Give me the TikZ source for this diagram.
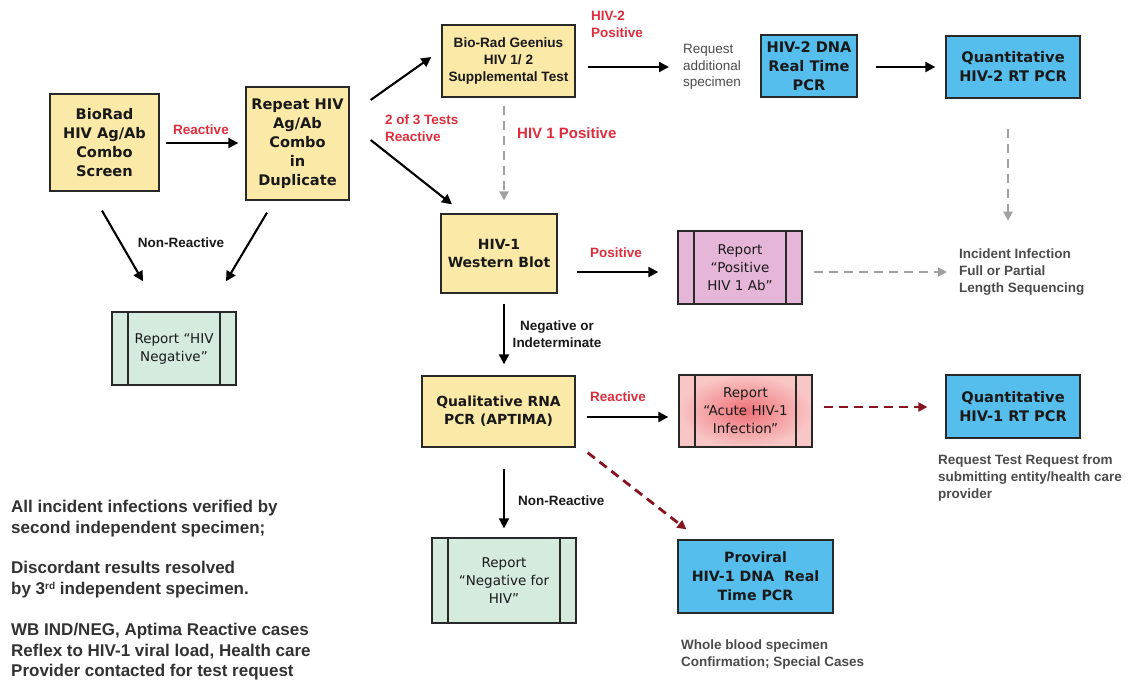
\documentclass[tikz,border=0pt]{standalone}
\usepackage{fontspec}
\setmainfont{Liberation Sans}
\newfontfamily\boxfont{DejaVu Sans}
\usetikzlibrary{arrows.meta,calc}
\definecolor{boxyellow}{RGB}{251,233,168}
\definecolor{boxblue}{RGB}{86,190,236}
\definecolor{repgreen}{RGB}{212,235,222}
\definecolor{reppink}{RGB}{230,182,216}
\definecolor{acutein}{RGB}{238,112,118}
\definecolor{acuteout}{RGB}{249,198,198}
\definecolor{labred}{RGB}{222,45,60}
\definecolor{darkred}{RGB}{135,20,30}
\definecolor{dashgray}{RGB}{160,160,160}
\definecolor{edge}{RGB}{40,40,40}
\definecolor{txt}{RGB}{25,25,25}
\definecolor{notegray}{RGB}{50,50,50}
\definecolor{softgray}{RGB}{75,75,75}
\begin{document}
\begin{tikzpicture}[x=1pt,y=-1pt,
  base/.style={draw=edge, line width=1.3pt, align=center, inner sep=0pt, text=txt},
  ybox/.style={base, fill=boxyellow, font=\boxfont\bfseries\fontsize{14.6}{19}\selectfont},
  bbox/.style={base, fill=boxblue, font=\boxfont\bfseries\fontsize{14.6}{19}\selectfont},
  report/.style={base, font=\boxfont\fontsize{13.5}{18}\selectfont,
    path picture={\draw[edge,line width=1.3pt]
      ([xshift=16pt]path picture bounding box.north west) -- ([xshift=16pt]path picture bounding box.south west)
      ([xshift=-16pt]path picture bounding box.north east) -- ([xshift=-16pt]path picture bounding box.south east);}},
  redlab/.style={font=\bfseries\fontsize{13.5}{16.5}\selectfont, text=labred, align=left, inner sep=0pt},
  blklab/.style={font=\bfseries\fontsize{13.5}{16.5}\selectfont, text=txt, align=center, inner sep=0pt},
  graytxt/.style={font=\fontsize{13.5}{16.7}\selectfont, text=softgray, align=left, inner sep=0pt},
  graybold/.style={font=\bfseries\fontsize{13.5}{16.7}\selectfont, text=softgray, align=left, inner sep=0pt},
  note/.style={font=\bfseries\fontsize{17}{20.5}\selectfont, text=notegray, align=left, inner sep=0pt, anchor=north west},
  arr/.style={-{Triangle[length=10pt,width=10pt]}, line width=2.1pt, black},
  garr/.style={-{Triangle[length=9pt,width=9pt]}, line width=2.2pt, dashgray, dash pattern=on 9pt off 6pt},
  rarr/.style={-{Triangle[length=9pt,width=9pt]}, line width=2.8pt, darkred, dash pattern=on 9pt off 6pt}
]
\useasboundingbox[fill=white] (0,0) rectangle (1134,681);

% ---- boxes ----
\node[ybox, minimum width=109pt, minimum height=97pt] (screen) at (104.5,142.5) {BioRad\\HIV Ag/Ab\\Combo\\Screen};
\node[ybox, minimum width=103pt, minimum height=113pt] (repeat) at (297.5,143.5) {Repeat HIV\\Ag/Ab\\Combo\\in\\Duplicate};
\node[report, fill=repgreen, minimum width=124pt, minimum height=73pt] (neg1) at (174,348.5) {Report “HIV\\Negative”};
\node[base, fill=boxyellow, font=\bfseries\fontsize{13.6}{16.7}\selectfont, minimum width=133pt, minimum height=72pt] (geenius) at (508.5,61) {Bio-Rad Geenius\\HIV 1/ 2\\Supplemental Test};
\node[graytxt, anchor=west] (req) at (683,67) {Request\\additional\\specimen};
\node[bbox, minimum width=96pt, minimum height=62pt] (dna2) at (809,66) {HIV-2 DNA\\Real Time\\PCR};
\node[bbox, minimum width=134pt, minimum height=62pt] (quant2) at (1013,67) {Quantitative\\HIV-2 RT PCR};
\node[ybox, minimum width=116pt, minimum height=79pt, font=\boxfont\bfseries\fontsize{14}{18}\selectfont] (wb) at (499,253.5) {HIV-1\\Western Blot};
\node[report, fill=reppink, minimum width=124pt, minimum height=73pt] (posrep) at (740,267.5) {Report\\“Positive\\HIV 1 Ab”};
\node[graybold, anchor=west] (incid) at (959,272) {Incident Infection\\Full or Partial\\Length Sequencing};
\node[ybox, minimum width=153pt, minimum height=71pt, font=\boxfont\bfseries\fontsize{13.9}{18}\selectfont] (qual) at (498.5,411.5) {Qualitative RNA\\PCR (APTIMA)};
\node[report, inner color=acutein, outer color=acuteout, minimum width=133pt, minimum height=72pt] (acute) at (745.5,411) {Report\\“Acute HIV-1\\Infection”};
\node[bbox, minimum width=134pt, minimum height=63pt] (quant1) at (1013,406.5) {Quantitative\\HIV-1 RT PCR};
\node[graybold, anchor=north west] (reqtest) at (938,455) {Request Test Request from\\submitting entity/health care\\provider};
\node[report, fill=repgreen, minimum width=144pt, minimum height=85pt] (neg2) at (504,580.5) {Report\\“Negative for\\HIV”};
\node[bbox, minimum width=155pt, minimum height=73pt, font=\boxfont\bfseries\fontsize{14.2}{19}\selectfont] (prov) at (755.5,576.5) {Proviral\\HIV-1 DNA~~Real\\Time PCR};
\node[graybold, anchor=north west] (whole) at (681,640) {Whole blood specimen\\Confirmation; Special Cases};

% ---- notes ----
\node[note] (n1) at (11,500) {All incident infections verified by\\second independent specimen;};
\node[note] (n2) at (11,561) {Discordant results resolved\\by 3{\fontsize{10}{10}\selectfont\raisebox{5pt}{rd}} independent specimen.};
\node[note] (n3) at (11,623) {WB IND/NEG, Aptima Reactive cases\\Reflex to HIV-1 viral load, Health care\\Provider contacted for test request};

% ---- connectors ----
\draw[arr] ($(screen.east)+(6,0.5)$) -- ($(repeat.west)+(-7,-0.5)$);
\node[redlab] (lreact1) at (201,130) {Reactive};
\draw[arr] ($(screen.south)+(-2.5,19)$) -- ($(neg1.north)+(-31,-30)$);
\draw[arr] ($(repeat.south)+(-30.5,12)$) -- ($(neg1.north)+(52,-30)$);
\node[blklab] (lnonr1) at (181,243) {Non-Reactive};
\draw[arr] ($(repeat.east)+(21,-43.5)$) -- ($(geenius.west)+(-10,-4)$);
\draw[arr] ($(repeat.east)+(21,-3.5)$) -- ($(wb.north)+(-47,-9)$);
\node[redlab, anchor=west] (l2of3) at (385,128) {2 of 3 Tests\\Reactive};
\draw[arr] ($(geenius.east)+(12,6)$) -- ($(req.west)+(-14,0)$);
\node[redlab, anchor=west] (lhiv2) at (591,24.5) {HIV-2\\Positive};
\draw[arr] ($(dna2.east)+(18,1)$) -- ($(quant2.west)+(-10,0)$);
\draw[garr] ($(geenius.south)+(-4.5,8)$) -- ($(wb.north)+(5,-13)$);
\node[redlab, anchor=west, font=\bfseries\fontsize{15}{18}\selectfont] (lhiv1) at (517,133) {HIV 1 Positive};
\draw[garr] ($(quant2.south)+(-5,30)$) -- ($(quant2.south)+(-5,122)$);
\draw[garr] ($(posrep.east)+(11,4.5)$) -- ($(incid.west)+(-12,0)$);
\draw[arr] ($(wb.east)+(19,18.5)$) -- ($(posrep.west)+(-19,4.5)$);
\node[redlab] (lpos) at (616,253) {Positive};
\draw[arr] ($(wb.south)+(5,10)$) -- ($(qual.north)+(5.5,-11)$);
\node[blklab] (lneg) at (557,334) {Negative or\\Indeterminate};
\draw[arr] ($(qual.east)+(11,5.5)$) -- ($(acute.west)+(-10,6)$);
\node[redlab] (lreact2) at (618,397) {Reactive};
\draw[rarr] ($(acute.east)+(11,-4)$) -- ($(quant1.west)+(-18,0.5)$);
\draw[rarr] ($(qual.south east)+(12,5)$) -- ($(prov.north west)+(9,-10)$);
\draw[arr] ($(qual.south)+(5.5,21)$) -- ($(neg2.north)+(0,-9)$);
\node[blklab, anchor=west] (lnonr2) at (518,501) {Non-Reactive};
\end{tikzpicture}
\end{document}
